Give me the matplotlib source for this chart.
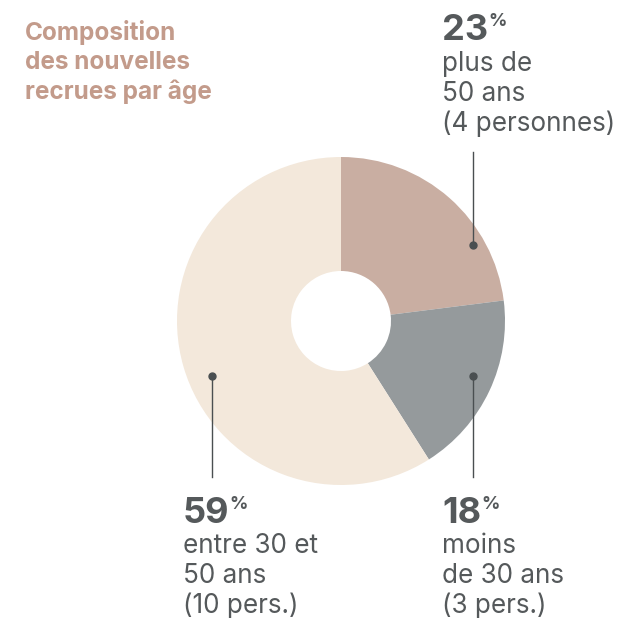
import matplotlib
matplotlib.use("Agg")
import matplotlib.pyplot as plt

# Data
categories = ["plus de 50 ans", "moins de 30 ans", "entre 30 et 50 ans"]
values = [23, 18, 59]
pct_labels = ["23", "18", "59"]
desc_labels = ["plus de\n50 ans\n(4 personnes)", "moins\nde 30 ans\n(3 pers.)", "entre 30 et\n50 ans\n(10 pers.)"]
colors = ["#c9aea2", "#959a9c", "#f3e8db"]
title = "Composition\ndes nouvelles\nrecrues par âge"

W, H = 623, 618
fig = plt.figure(figsize=(W / 100, H / 100), dpi=100)
fig.patch.set_facecolor("white")

FONT = ["Inter", "DejaVu Sans"]
TXT = "#55595b"
LINE = "#4a4f51"

# pie axes: centre (341,321), radius 164 px
cx, cy, R, r_in = 341, 321, 164, 50
ax = fig.add_axes([(cx - R) / W, (H - cy - R) / H, 2 * R / W, 2 * R / H])
ax.pie(values, colors=colors, startangle=90, counterclock=False, radius=1,
       wedgeprops=dict(width=1 - r_in / R, linewidth=0))
ax.set_xlim(-1, 1)
ax.set_ylim(-1, 1)
ax.set_aspect("equal")
ax.axis("off")

# overlay axes in pixel coordinates
ov = fig.add_axes([0, 0, 1, 1], facecolor="none")
ov.set_xlim(0, W)
ov.set_ylim(H, 0)
ov.axis("off")

# title: baseline of last line
ov.text(25, 99, title, fontsize=17.5, fontweight="bold", color="#c39b8b",
        family=FONT, va="baseline", ha="left", linespacing=1.3)

# labels: (x, number baseline, last-line baseline of description)
label_pos = [(442, 40, 131), (442, 523, 613), (183, 523, 613)]
leaders = [(473, 152, 245, 245), (473, 376, 477, 376), (212, 376, 477, 376)]

fig.canvas.draw()
for (x, yb, yl), pct, desc in zip(label_pos, pct_labels, desc_labels):
    t = ov.text(x, yb, pct, fontsize=26, fontweight="bold", color=TXT,
                family=FONT, va="baseline", ha="left")
    bb = t.get_window_extent(renderer=fig.canvas.get_renderer())
    xr = bb.x1
    ov.text(xr, yb - 14, "%", fontsize=13, fontweight="bold", color=TXT,
            family=FONT, va="baseline", ha="left")
    ov.text(x, yl, desc, fontsize=18.8, color=TXT, family=FONT,
            va="baseline", ha="left", linespacing=1.19)

for lx, y0, y1, yd in leaders:
    ov.plot([lx, lx], [y0, y1], color=LINE, lw=1)
    ov.plot([lx], [yd], "o", color=LINE, ms=5)

fig.savefig("out.png", dpi=100)
